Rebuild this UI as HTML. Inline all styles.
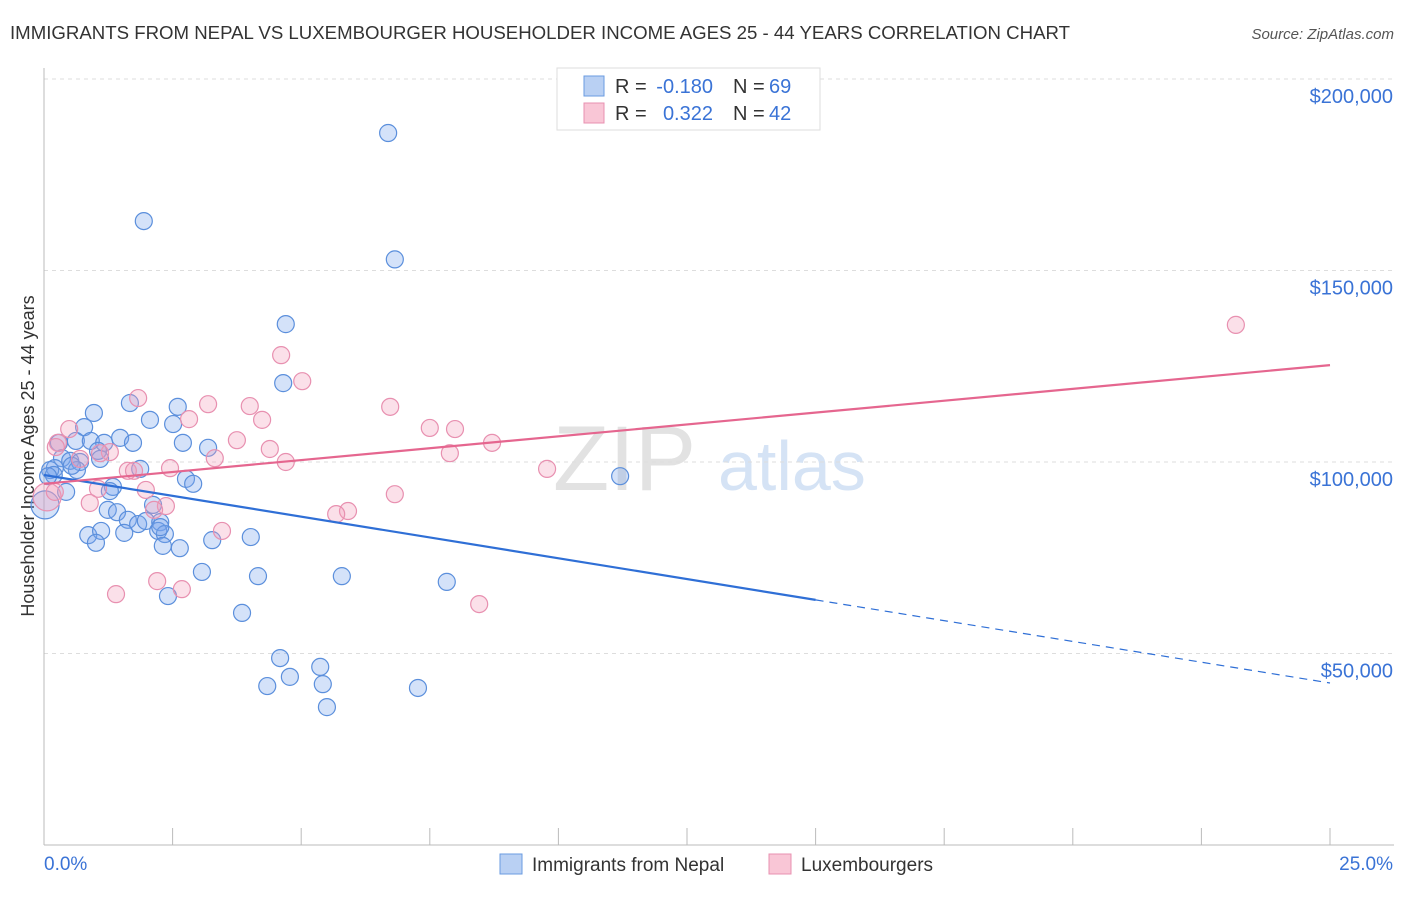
<!DOCTYPE html>
<html><head><meta charset="utf-8"><style>
body{margin:0;background:#fff;font-family:"Liberation Sans",sans-serif;}
svg text{font-family:"Liberation Sans",sans-serif;}
</style></head><body>
<svg id="chart" width="1406" height="892" xmlns="http://www.w3.org/2000/svg">
<text x="10" y="39" font-size="18" fill="#333" textLength="1060" lengthAdjust="spacingAndGlyphs">IMMIGRANTS FROM NEPAL VS LUXEMBOURGER HOUSEHOLDER INCOME AGES 25 - 44 YEARS CORRELATION CHART</text>
<text x="1394" y="39" font-size="15" fill="#555" font-style="italic" text-anchor="end">Source: ZipAtlas.com</text>
<text x="34" y="456" font-size="18" fill="#333" text-anchor="middle" transform="rotate(-90 34 456)">Householder Income Ages 25 - 44 years</text>
<g><text x="553" y="490" font-size="92" fill="#e2e2e2" font-family="Liberation Serif">ZIP</text><text x="718" y="490" font-size="70" fill="#d5e3f5">atlas</text></g>
<g id="grid"></g><g id="axes"></g><g id="marks"></g><g id="lines"></g>
<g>
<rect x="557" y="68" width="263" height="62" fill="#fff" stroke="#ddd"/>
<rect x="584" y="76" width="20" height="20" fill="#b9d0f3" stroke="#6a9be0"/>
<rect x="584" y="103" width="20" height="20" fill="#f9c6d6" stroke="#e890b0"/>
<text x="615" y="93" font-size="20" fill="#333">R =</text>
<text x="713" y="93" font-size="20" fill="#3a73d6" text-anchor="end">-0.180</text>
<text x="733" y="93" font-size="20" fill="#333">N =</text>
<text x="769" y="93" font-size="20" fill="#3a73d6">69</text>
<text x="615" y="120" font-size="20" fill="#333">R =</text>
<text x="713" y="120" font-size="20" fill="#3a73d6" text-anchor="end">0.322</text>
<text x="733" y="120" font-size="20" fill="#333">N =</text>
<text x="769" y="120" font-size="20" fill="#3a73d6">42</text>
</g>
<g>
<rect x="500" y="854" width="22" height="20" fill="#b9d0f3" stroke="#6a9be0"/>
<text x="532" y="871" font-size="19" fill="#333">Immigrants from Nepal</text>
<rect x="769" y="854" width="22" height="20" fill="#f9c6d6" stroke="#e890b0"/>
<text x="801" y="871" font-size="19" fill="#333">Luxembourgers</text>
</g>
</svg>
<script>
const nepalX=[6.69,1.94,6.82,4.70,4.65,1.67,2.60,0.97,2.06,2.51,0.78,0.29,0.62,0.91,1.17,1.48,1.73,2.70,3.19,1.05,0.35,0.51,0.70,0.21,0.12,0.64,1.87,2.76,2.90,1.34,0.43,1.28,0.02,1.24,1.42,1.63,1.83,2.12,1.98,2.26,2.22,1.56,0.86,1.11,1.01,2.35,2.31,3.27,4.02,2.64,3.07,4.16,5.79,7.83,2.41,3.85,11.20,4.59,5.37,4.34,4.78,5.42,5.50,7.27,0.19,0.08,0.54,1.09,2.26];
const nepalY=[185.9,162.9,152.9,136.0,120.6,115.4,114.4,112.8,111.0,109.9,109.1,105.0,105.5,105.5,105.0,106.3,105.0,105.0,103.7,102.9,101.0,100.3,100.0,98.4,97.9,97.9,98.2,95.6,94.3,93.5,92.2,92.4,88.8,87.5,86.9,84.9,83.8,88.8,84.6,84.3,82.0,81.5,80.9,82.0,78.9,81.2,78.1,79.6,80.4,77.5,71.3,70.2,70.2,68.7,65.0,60.6,96.3,48.8,46.5,41.5,43.9,42.0,36.0,41.0,96.6,96.3,99.0,100.8,83.0];
const luxX=[23.17,4.61,5.02,1.83,3.19,4.00,6.73,4.24,2.82,0.49,3.75,7.50,7.99,8.71,0.27,0.23,4.39,7.89,1.28,1.09,0.70,4.70,3.32,9.78,2.45,1.63,1.75,1.05,1.98,6.82,0.89,2.37,5.91,5.68,2.14,3.46,2.20,2.68,1.40,8.46,0.06,0.21];
const luxY=[135.8,127.9,121.1,116.7,115.1,114.6,114.4,111.0,111.2,108.6,105.7,108.9,108.6,105.0,105.0,103.9,103.4,102.3,102.6,102.3,100.8,100.0,101.0,98.2,98.4,97.7,97.7,93.0,92.7,91.6,89.3,88.5,87.2,86.4,87.5,82.0,68.9,66.8,65.5,62.9,90.9,92.2];
const yTicks=[50,100,150,200];
const yTickLabels=["$50,000","$100,000","$150,000","$200,000"];
const xTicks=[0,2.5,5,7.5,10,12.5,15,17.5,20,22.5,25];
const nepalTrendX=[0,15,25];
const nepalTrendY=[96.6,64.0,42.3];
const luxTrendX=[0,25];
const luxTrendY=[94.3,125.3];
const bigNepal=32, bigLux=40;

const NS="http://www.w3.org/2000/svg";
const X=v=>44+v/25*1286;
const Y=v=>845-v*3.83;
function mk(tag,attrs,parent){const e=document.createElementNS(NS,tag);for(const k in attrs)e.setAttribute(k,attrs[k]);document.getElementById(parent).appendChild(e);return e;}
yTicks.forEach((t,i)=>{
  const g=mk('line',{x1:44,x2:1394,y1:Y(t),y2:Y(t),stroke:'#ddd','stroke-dasharray':'4,4'},'grid');
  
  
  const tx=mk('text',{x:1393,y:Y(t)+24,'font-size':20,fill:'#3a73d6','text-anchor':'end'},'axes');
  tx.textContent=yTickLabels[i];
  
  
});
const ya=mk('line',{x1:44,x2:44,y1:68,y2:845,stroke:'#bbb'},'axes');


const xa=mk('line',{x1:44,x2:1394,y1:845,y2:845,stroke:'#bbb'},'axes');


xTicks.forEach(t=>{
  const l=mk('line',{x1:X(t),x2:X(t),y1:828,y2:845,stroke:'#bbb'},'axes');
  
  
});
const xl0=mk('text',{x:44,y:870,'font-size':19,fill:'#3a73d6'},'axes');xl0.textContent='0.0%';


const xl1=mk('text',{x:1393,y:870,'font-size':19,fill:'#3a73d6','text-anchor':'end'},'axes');xl1.textContent='25.0%';


nepalX.forEach((x,i)=>{
  const c=mk('circle',{cx:X(x),cy:Y(nepalY[i]),r:i===bigNepal?14:8.5,fill:'rgba(120,165,235,0.32)',stroke:'#5b8fdc','stroke-width':1.2},'marks');
  
  
});
luxX.forEach((x,i)=>{
  const c=mk('circle',{cx:X(x),cy:Y(luxY[i]),r:i===bigLux?14:8.5,fill:'rgba(242,160,188,0.32)',stroke:'#e890b0','stroke-width':1.2},'marks');
  
  
});
const b1=mk('line',{x1:X(nepalTrendX[0]),y1:Y(nepalTrendY[0]),x2:X(nepalTrendX[1]),y2:Y(nepalTrendY[1]),stroke:'#2f6fd6','stroke-width':2.2},'lines');


const b2=mk('line',{x1:X(nepalTrendX[1]),y1:Y(nepalTrendY[1]),x2:X(nepalTrendX[2]),y2:Y(nepalTrendY[2]),stroke:'#2f6fd6','stroke-width':1.2,'stroke-dasharray':'8,6'},'lines');


const p1=mk('line',{x1:X(luxTrendX[0]),y1:Y(luxTrendY[0]),x2:X(luxTrendX[1]),y2:Y(luxTrendY[1]),stroke:'#e5668f','stroke-width':2.2},'lines');


</script>
</body></html>
